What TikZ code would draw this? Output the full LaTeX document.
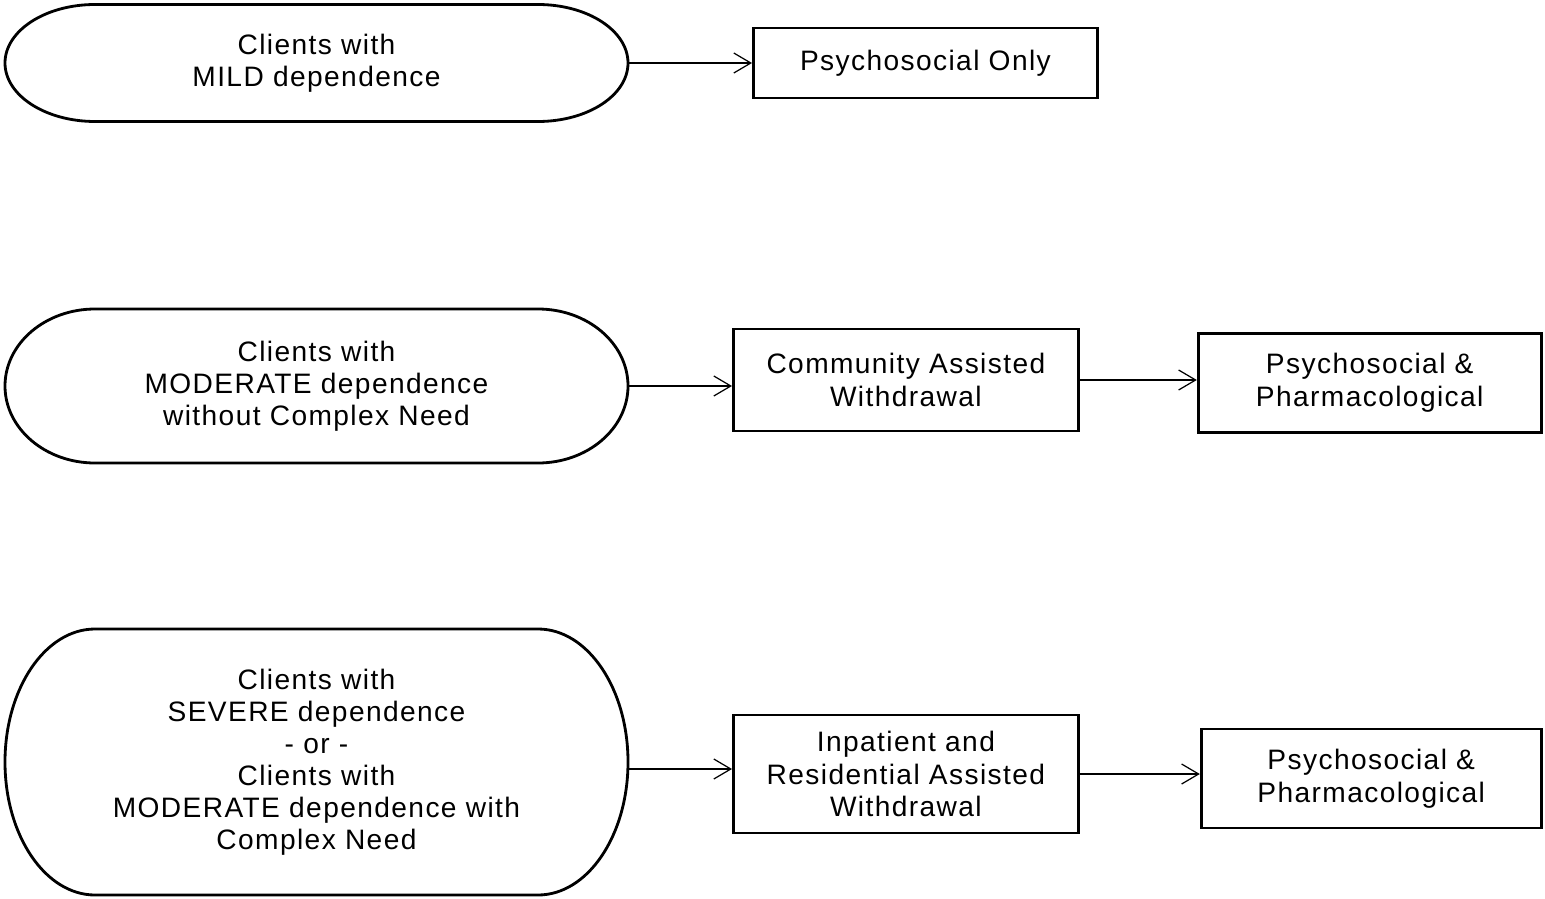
\documentclass[tikz,border=0pt]{standalone}
\usepackage{fontspec}
\setmainfont{Liberation Sans}[LetterSpace=5]
\usetikzlibrary{positioning,arrows.meta}

% outline with elliptic ends round a client node: name, half height
\newcommand{\capsule}[2]{%
  \draw[capline] ([xshift=1.8cm]#1.north west) -- ([xshift=-1.8cm]#1.north east)
    arc[start angle=90, end angle=-90, x radius=1.8cm, y radius=#2]
    -- ([xshift=1.8cm]#1.south west)
    arc[start angle=270, end angle=90, x radius=1.8cm, y radius=#2] -- cycle;}

\begin{document}
\begin{tikzpicture}[
    node distance=2.5cm,
    client/.style={rectangle, minimum width=12.46cm, text centered, align=center, outer sep=0pt, font=\fontsize{16}{18.2}\selectfont},
    capline/.style={draw=black, line width=1.6pt},
    therapy/.style={rectangle, minimum width=6.9cm, minimum height=1.98cm, text centered, align=center, draw=black, line width=1.6pt, font=\fontsize{16}{18.6}\selectfont},
    arrow/.style={-{Straight Barb[length=3.4mm, width=4mm]}, line width=0.7pt}
]
\useasboundingbox (0,0) rectangle (30.9,-17.96);

\node[client, minimum height=2.34cm] (mild) at (6.33,-1.26) {Clients with\\MILD dependence};
\node[client, minimum height=3.08cm] (moderate) at (6.33,-7.72) {Clients with\\MODERATE dependence\\without Complex Need};
\node[client, minimum height=5.32cm] (severe) at (6.33,-15.24) {Clients with\\SEVERE dependence\\- or -\\Clients with\\MODERATE dependence with\\Complex Need};
\capsule{mild}{1.17cm}
\capsule{moderate}{1.54cm}
\capsule{severe}{2.66cm}

\node[therapy, minimum width=6.88cm, minimum height=1.4cm, right=2.48cm of mild] (only) {Psychosocial Only};
\node[therapy, minimum height=2.04cm, right=2.08cm of moderate, yshift=0.12cm] (community) {Community Assisted\\Withdrawal};
\node[therapy, minimum width=6.86cm, right=2.34cm of community, yshift=-0.06cm] (pharmA) {Psychosocial \&\\Pharmacological};
\node[therapy, minimum height=2.36cm, right=2.08cm of severe, yshift=-0.24cm] (inpatient) {Inpatient and\\Residential Assisted\\Withdrawal};
\node[therapy, minimum width=6.8cm, right=2.4cm of inpatient, yshift=-0.09cm] (pharmB) {Psychosocial \&\\Pharmacological};

\draw[arrow] (mild) -- (only);
\draw[arrow] (moderate.east) -- (moderate.east -| community.west);
\draw[arrow] (community.east) -- (community.east -| pharmA.west);
\draw[arrow] ([yshift=-0.14cm]severe.east) -- ([yshift=-0.14cm]severe.east -| inpatient.west);
\draw[arrow] (inpatient.east) -- (inpatient.east -| pharmB.west);

\end{tikzpicture}
\end{document}
